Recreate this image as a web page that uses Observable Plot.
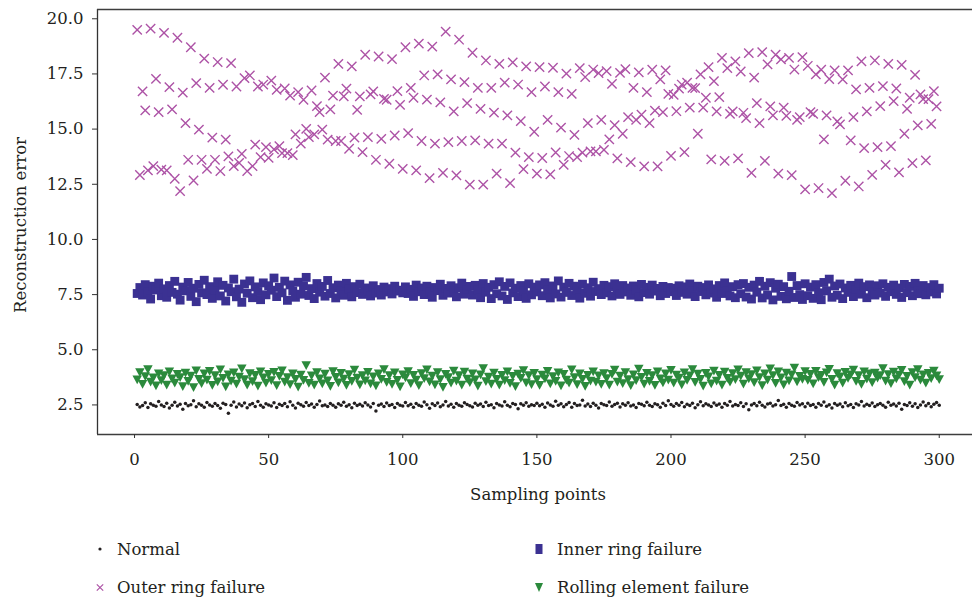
<!DOCTYPE html>
<html><head><meta charset="utf-8">
<script src="https://cdn.jsdelivr.net/npm/d3@7"></script>
<script src="https://cdn.jsdelivr.net/npm/@observablehq/plot@0.6"></script>
<style>
body{margin:0;background:#fff;font-family:"DejaVu Serif",serif;color:#231f20}
#legend{position:relative;height:83px;font-size:16.5px;width:972px}
.item{position:absolute;display:flex;align-items:center;height:24px;white-space:nowrap}
.item svg{display:block}
</style></head><body><div id="chart"></div><div id="legend"></div>
<script>
const seriesNames = ["Normal", "Inner ring failure", "Outer ring failure", "Rolling element failure"];
const xTicks = [0, 50, 100, 150, 200, 250, 300];
const yTicks = [2.5, 5.0, 7.5, 10.0, 12.5, 15.0, 17.5, 20.0];

const normal = [
2.52,2.41,2.47,2.60,2.38,2.55,2.49,2.44,2.66,2.50,2.43,2.58,2.36,2.48,2.62,2.45,2.53,2.30,2.57,2.46,2.51,2.69,2.42,2.55,2.48,
2.39,2.61,2.50,2.44,2.56,2.47,2.35,2.58,2.52,2.12,2.49,2.63,2.41,2.54,2.46,2.59,2.37,2.51,2.57,2.43,2.65,2.48,2.40,2.55,2.50,
2.45,2.60,2.38,2.53,2.47,2.56,2.42,2.64,2.49,2.36,2.58,2.51,2.44,2.61,2.47,2.54,2.39,2.52,2.68,2.46,2.50,2.43,2.57,2.48,2.40,
2.55,2.49,2.62,2.44,2.51,2.37,2.58,2.47,2.53,2.45,2.60,2.50,2.41,2.56,2.22,2.48,2.54,2.43,2.59,2.47,2.52,2.38,2.57,2.49,2.45,
2.61,2.46,2.53,2.40,2.56,2.48,2.44,2.63,2.51,2.35,2.55,2.47,2.59,2.42,2.50,2.66,2.45,2.53,2.39,2.57,2.48,2.44,2.60,2.52,2.46,
2.41,2.58,2.49,2.54,2.43,2.62,2.47,2.51,2.37,2.56,2.50,2.45,2.64,2.48,2.42,2.57,2.52,2.33,2.55,2.49,2.60,2.44,2.51,2.47,2.58,
2.46,2.53,2.40,2.59,2.50,2.44,2.67,2.48,2.55,2.42,2.52,2.61,2.39,2.57,2.47,2.50,2.71,2.45,2.54,2.43,2.58,2.49,2.36,2.56,2.51,
2.47,2.63,2.44,2.52,2.58,2.41,2.55,2.48,2.60,2.45,2.50,2.38,2.57,2.53,2.46,2.62,2.49,2.43,2.55,2.51,2.40,2.58,2.47,2.69,2.52,
2.44,2.56,2.49,2.61,2.42,2.53,2.47,2.58,2.37,2.51,2.64,2.46,2.55,2.50,2.43,2.59,2.48,2.54,2.40,2.57,2.49,2.66,2.45,2.52,2.47,
2.60,2.43,2.55,2.28,2.50,2.57,2.46,2.62,2.49,2.41,2.54,2.58,2.45,2.51,2.70,2.47,2.53,2.39,2.56,2.48,2.44,2.61,2.50,2.55,2.42,
2.58,2.47,2.52,2.40,2.56,2.49,2.63,2.44,2.51,2.36,2.57,2.48,2.54,2.42,2.60,2.46,2.52,2.38,2.55,2.50,2.65,2.45,2.53,2.47,2.59,
2.43,2.51,2.56,2.48,2.40,2.62,2.49,2.54,2.45,2.58,2.30,2.52,2.47,2.60,2.44,2.55,2.38,2.50,2.63,2.46,2.57,2.42,2.53,2.61,2.49];

const innerRing = [
7.55,7.82,7.48,7.95,7.62,7.30,7.88,7.71,8.02,7.45,7.76,7.38,7.91,7.60,8.10,7.52,7.25,7.84,7.67,8.05,7.42,7.79,7.18,7.96,7.58,
8.15,7.50,7.86,7.33,7.72,8.08,7.44,7.92,7.21,7.80,7.63,8.20,7.40,7.75,7.15,7.98,7.56,8.12,7.36,7.85,7.64,7.27,8.03,7.49,7.90,
7.70,8.25,7.41,7.83,7.58,8.11,7.24,7.94,7.66,7.38,8.06,7.52,7.89,8.28,7.46,7.77,7.32,8.00,7.61,7.87,7.43,8.14,7.55,7.81,7.35,
7.93,7.68,7.47,8.01,7.74,7.40,7.86,7.59,7.97,7.51,7.80,7.65,7.44,7.90,7.57,7.73,7.48,7.84,7.62,7.77,7.53,7.88,7.66,7.70,7.58,
7.85,7.55,7.74,7.42,7.93,7.63,7.80,7.50,7.88,7.60,7.38,7.82,7.68,7.97,7.47,7.78,7.57,7.90,7.65,7.40,7.81,8.02,7.52,7.73,7.87,
7.48,7.92,7.70,7.36,8.00,7.61,7.83,7.32,7.95,7.54,8.08,7.44,7.87,7.28,8.03,7.58,7.79,7.41,7.91,7.66,7.33,7.99,7.49,7.84,7.62,
7.94,7.45,8.04,7.71,7.35,7.89,7.53,8.12,7.39,7.84,7.60,8.01,7.46,7.88,7.69,7.34,7.97,7.56,7.81,7.43,8.06,7.64,7.77,7.50,7.92,
7.58,7.86,7.44,7.99,7.69,7.51,7.91,7.62,7.80,7.47,7.89,7.72,7.40,7.96,7.59,7.83,7.52,7.93,7.66,7.78,7.45,7.87,7.55,7.82,7.63,
7.79,7.46,7.90,7.60,7.85,7.52,7.98,7.68,7.41,7.88,7.64,7.82,7.49,7.94,7.57,7.76,7.38,7.91,7.55,8.03,7.67,7.44,7.86,7.36,7.95,
7.54,8.00,7.39,7.83,7.30,7.93,7.61,8.10,7.35,7.88,7.48,8.04,7.26,7.79,7.97,7.42,7.86,7.31,7.65,8.32,7.37,7.91,7.50,7.28,7.99,
7.45,7.84,7.33,7.95,7.58,7.27,8.05,7.67,8.20,7.38,7.89,7.47,7.98,7.32,7.80,7.60,7.92,7.41,7.73,8.02,7.52,7.86,7.36,7.94,7.64,
7.48,7.90,7.57,7.99,7.42,7.83,7.63,7.93,7.51,7.80,7.37,7.96,7.59,7.87,7.45,8.01,7.68,7.54,7.91,7.49,7.82,7.62,7.95,7.53,7.79];

const outerRing = [
19.50,12.92,16.71,15.85,13.13,19.55,13.32,17.28,15.77,13.16,19.36,13.13,16.90,15.89,12.75,19.14,12.19,16.65,15.27,13.61,18.71,12.67,17.08,14.98,13.61,
18.19,13.20,16.87,14.61,13.61,18.04,13.10,17.01,14.52,13.76,17.99,13.32,16.93,13.47,13.88,17.31,13.10,17.43,13.32,14.30,16.93,13.73,17.02,14.18,13.70,
17.20,14.08,16.78,14.23,13.91,16.84,13.91,16.52,13.82,14.76,16.68,14.34,16.33,15.01,14.64,16.75,14.76,16.04,15.77,14.98,17.33,14.52,15.89,16.52,14.46,
17.96,14.46,16.48,16.83,14.11,17.84,14.61,15.87,16.48,13.96,18.37,14.64,16.57,16.71,13.61,18.29,14.56,16.37,16.33,13.43,18.17,14.71,16.72,16.10,13.20,
18.71,14.82,16.87,16.42,13.13,18.87,14.46,17.43,16.34,12.78,18.74,14.34,17.48,16.21,13.02,19.42,14.41,17.25,15.80,12.90,19.05,14.46,17.13,16.18,12.48,
18.46,14.49,16.87,15.92,12.48,18.11,14.34,16.87,15.75,12.98,17.96,14.34,17.11,15.62,12.55,18.02,13.93,17.02,15.36,13.19,17.84,13.73,16.68,14.88,12.98,
17.81,13.69,16.93,15.42,12.95,17.78,13.94,16.68,15.07,13.38,17.51,13.78,16.60,14.74,13.73,17.76,13.93,17.36,15.27,13.99,17.70,13.99,17.54,15.42,14.06,
17.63,14.53,17.05,15.18,13.67,17.55,14.79,17.72,15.54,13.50,16.87,15.42,17.57,15.65,13.31,16.68,15.27,17.69,15.84,13.31,17.25,15.77,17.66,16.60,13.79,
16.55,15.81,16.83,17.02,13.96,17.10,15.97,16.87,16.86,14.79,17.48,15.97,16.42,17.81,13.63,17.17,15.80,16.45,18.23,13.56,17.76,15.69,15.80,18.07,13.67,
17.61,15.74,15.50,18.44,13.02,17.33,16.18,15.27,18.49,13.56,17.93,16.03,15.62,18.37,12.98,18.16,15.97,15.60,18.23,12.91,17.70,15.42,15.54,18.26,12.27,
17.87,15.77,15.69,17.48,12.33,17.69,14.53,15.62,17.27,12.10,17.66,15.35,15.21,17.25,12.66,17.66,14.49,15.54,16.80,12.40,18.07,14.14,15.80,16.87,12.93,
18.11,14.18,16.04,16.95,13.38,17.96,14.23,16.27,16.84,13.04,17.91,14.79,15.92,16.42,13.46,17.46,15.17,16.57,16.36,13.58,16.36,15.24,16.72,16.03];

const rollingElement = [
3.65,3.98,3.45,3.80,4.12,3.55,3.74,3.38,3.92,3.62,3.85,3.42,4.02,3.70,3.50,3.90,3.76,3.35,3.96,3.58,3.82,3.30,4.06,3.68,3.48,
3.93,3.64,4.04,3.40,3.84,3.56,4.10,3.72,3.33,3.88,3.60,3.97,3.46,3.78,4.15,3.66,3.41,3.94,3.57,3.86,3.37,4.01,3.74,3.50,3.90,
3.62,3.99,3.39,3.81,4.06,3.55,3.75,3.44,3.93,3.67,3.32,3.87,3.63,4.30,3.49,3.83,3.42,3.98,3.70,3.47,3.91,3.61,3.36,4.03,3.77,
3.52,3.95,3.69,3.40,3.89,3.58,4.09,3.73,3.43,3.85,3.61,3.99,3.47,3.79,3.38,3.93,3.68,4.12,3.54,3.84,3.45,3.97,3.63,3.34,3.88,
3.74,4.03,3.48,3.86,3.64,3.39,3.94,3.71,4.10,3.56,3.82,3.43,3.98,3.66,3.31,3.90,3.75,3.50,4.05,3.60,3.85,3.41,4.00,3.69,3.53,
3.93,3.65,3.37,3.88,4.16,3.57,3.78,3.46,3.96,3.67,3.42,3.86,3.62,4.01,3.49,3.81,3.35,3.91,3.72,4.07,3.52,3.85,3.44,3.95,3.66,
3.40,3.87,3.70,4.04,3.47,3.80,3.58,3.97,3.38,3.90,3.64,3.51,4.11,3.76,3.44,3.92,3.68,3.36,3.86,3.60,4.01,3.55,3.83,3.45,3.94,
3.71,3.41,3.90,4.09,3.55,3.82,3.48,3.98,3.66,3.39,3.88,3.62,4.14,3.77,3.46,3.95,3.58,3.85,3.40,4.02,3.70,3.52,3.93,3.64,4.08,
3.50,3.87,3.73,3.43,3.97,3.63,3.83,4.12,3.54,3.91,3.68,3.37,3.95,3.79,3.47,4.05,3.60,3.86,3.42,4.00,3.72,3.55,3.94,3.66,4.10,
3.82,3.46,3.98,3.70,3.89,3.53,4.06,3.76,3.39,3.92,3.64,4.15,3.85,3.49,4.01,3.74,3.43,3.96,3.61,3.88,4.18,3.56,3.81,3.67,4.03,
3.63,3.90,3.47,4.04,3.75,3.86,3.54,3.97,4.13,3.68,3.41,3.94,3.79,3.50,3.99,3.72,3.88,4.09,3.58,3.84,3.45,4.02,3.69,3.93,3.53,
3.96,3.73,3.84,4.16,3.60,3.89,3.48,4.00,3.70,3.87,4.08,3.57,3.81,3.42,3.98,3.76,4.12,3.64,3.88,3.50,3.95,3.71,4.05,3.83,3.66];

const colors = {normal: "#231f20", inner: "#3b3192", outer: "#ad53a6", rolling: "#2b8a3c"};
const xDomain = [-13.8, 312.4];
const yDomain = [1.16, 20.42];

const toRows = arr => arr.map((v, i) => ({x: i + 1, y: v}));
const triDown = {
  draw(ctx, size) {
    const r = Math.sqrt(size / Math.PI);
    const w = r * 0.95;
    ctx.moveTo(-w, -r * 0.8);
    ctx.lineTo(w, -r * 0.8);
    ctx.lineTo(0, r * 0.95);
    ctx.closePath();
  }
};

const ink = "#231f20";
const chart = Plot.plot({
  width: 972,
  height: 520,
  marginLeft: 97,
  marginRight: 0,
  marginTop: 9,
  marginBottom: 86,
  style: {fontFamily: "'DejaVu Serif', serif", fontSize: "16.5px", color: ink, background: "#fff"},
  x: {domain: xDomain, axis: null},
  y: {domain: yDomain, axis: null},
  marks: [
    Plot.dot(toRows(outerRing), {x: "x", y: "y", symbol: "times", r: 4.3, stroke: colors.outer, strokeWidth: 1.4}),
    Plot.dot(toRows(innerRing), {x: "x", y: "y", symbol: "square", r: 5.0, fill: colors.inner, stroke: "none"}),
    Plot.dot(toRows(rollingElement), {x: "x", y: "y", symbol: triDown, r: 5.0, fill: colors.rolling, stroke: "none"}),
    Plot.dot(toRows(normal), {x: "x", y: "y", r: 1.75, fill: colors.normal, stroke: "none"}),
    Plot.ruleX([xDomain[0]], {stroke: "#333", strokeWidth: 1.3}),
    Plot.ruleY([yDomain[0], yDomain[1]], {stroke: "#3d3d3d", strokeWidth: 1.4}),
    Plot.axisX(xTicks, {tickSize: 4, tickPadding: 15, tickFormat: d => String(d), label: null, stroke: "#333"}),
    Plot.axisY(yTicks, {tickSize: 5, tickPadding: 9, tickFormat: d => d.toFixed(1), label: null, stroke: "#333"}),
    Plot.text(["Sampling points"], {frameAnchor: "bottom", textAnchor: "middle", dy: 65, dx: 3, fill: ink}),
    Plot.text(["Reconstruction error"], {frameAnchor: "left", textAnchor: "middle", rotate: -90, dx: -77, dy: 3, fill: ink})
  ]
});
document.getElementById("chart").appendChild(chart);

// Legend
const legendItems = [
  {name: seriesNames[0], key: "normal", col: 0, row: 0},
  {name: seriesNames[1], key: "inner", col: 1, row: 0},
  {name: seriesNames[2], key: "outer", col: 0, row: 1},
  {name: seriesNames[3], key: "rolling", col: 1, row: 1}
];
const symbolSvg = key => {
  const c = colors[key];
  if (key === "normal") return `<svg width="20" height="20"><circle cx="10" cy="10" r="1.6" fill="${c}"/></svg>`;
  if (key === "inner") return `<svg width="20" height="20"><rect x="6.5" y="5" width="7" height="10" fill="${c}"/></svg>`;
  if (key === "outer") return `<svg width="20" height="20"><path d="M6.8 7.3L13.2 13.7M13.2 7.3L6.8 13.7" stroke="${c}" stroke-width="1.2"/></svg>`;
  return `<svg width="20" height="20"><path d="M6 6L14 6L10 15Z" fill="${c}"/></svg>`;
};
const legend = document.getElementById("legend");
for (const it of legendItems) {
  const d = document.createElement("div");
  d.className = "item";
  d.style.left = (it.col === 0 ? 90 : 529) + "px";
  d.style.top = (it.row === 0 ? 17 : 55) + "px";
  d.innerHTML = symbolSvg(it.key) + `<span style="margin-left:${it.col === 0 ? 7 : 8}px">${it.name}</span>`;
  legend.appendChild(d);
}
</script></body></html>
